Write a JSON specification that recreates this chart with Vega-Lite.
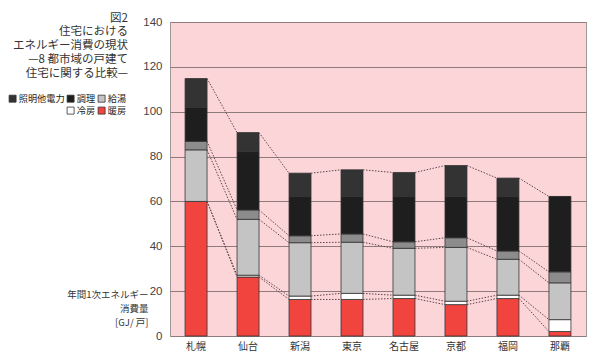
{
  "$schema": "https://vega.github.io/schema/vega-lite/v6.json",
  "width": 416,
  "height": 314,
  "autosize": {"type": "none"},
  "padding": {"left": 170, "top": 22, "right": 14, "bottom": 18},
  "background": "white",
  "config": {
    "font": "Noto Sans CJK JP",
    "view": {"fill": "#fcd5d9", "stroke": "#a09898", "strokeWidth": 1},
    "legend": {"symbolOpacity": 1}
  },
  "title": {
    "text": ["図2", "住宅における", "エネルギー消費の現状", "—8 都市域の戸建て", "住宅に関する比較—"],
    "anchor": "start",
    "frame": "group",
    "align": "right",
    "baseline": "top",
    "offset": 0,
    "dx": -42,
    "dy": 63,
    "fontSize": 11.5,
    "fontWeight": "normal",
    "lineHeight": 13.75,
    "color": "#333333"
  },
  "datasets": {
    "seg": [
      {"city": "札幌", "ci": 0, "seg": "暖房", "k": 1, "v": 60.0},
      {"city": "札幌", "ci": 0, "seg": "冷房", "k": 2, "v": 0},
      {"city": "札幌", "ci": 0, "seg": "給湯", "k": 3, "v": 23.0},
      {"city": "札幌", "ci": 0, "seg": "その他", "k": 4, "v": 3.8},
      {"city": "札幌", "ci": 0, "seg": "調理", "k": 5, "v": 15.2},
      {"city": "札幌", "ci": 0, "seg": "照明他電力", "k": 6, "v": 12.8},
      {"city": "仙台", "ci": 1, "seg": "暖房", "k": 1, "v": 26.3},
      {"city": "仙台", "ci": 1, "seg": "冷房", "k": 2, "v": 0.8},
      {"city": "仙台", "ci": 1, "seg": "給湯", "k": 3, "v": 24.9},
      {"city": "仙台", "ci": 1, "seg": "その他", "k": 4, "v": 4.2},
      {"city": "仙台", "ci": 1, "seg": "調理", "k": 5, "v": 26.0},
      {"city": "仙台", "ci": 1, "seg": "照明他電力", "k": 6, "v": 8.5},
      {"city": "新潟", "ci": 2, "seg": "暖房", "k": 1, "v": 16.3},
      {"city": "新潟", "ci": 2, "seg": "冷房", "k": 2, "v": 1.5},
      {"city": "新潟", "ci": 2, "seg": "給湯", "k": 3, "v": 23.8},
      {"city": "新潟", "ci": 2, "seg": "その他", "k": 4, "v": 3.1},
      {"city": "新潟", "ci": 2, "seg": "調理", "k": 5, "v": 17.5},
      {"city": "新潟", "ci": 2, "seg": "照明他電力", "k": 6, "v": 10.4},
      {"city": "東京", "ci": 3, "seg": "暖房", "k": 1, "v": 16.3},
      {"city": "東京", "ci": 3, "seg": "冷房", "k": 2, "v": 2.7},
      {"city": "東京", "ci": 3, "seg": "給湯", "k": 3, "v": 22.8},
      {"city": "東京", "ci": 3, "seg": "その他", "k": 4, "v": 3.7},
      {"city": "東京", "ci": 3, "seg": "調理", "k": 5, "v": 16.7},
      {"city": "東京", "ci": 3, "seg": "照明他電力", "k": 6, "v": 11.9},
      {"city": "名古屋", "ci": 4, "seg": "暖房", "k": 1, "v": 16.7},
      {"city": "名古屋", "ci": 4, "seg": "冷房", "k": 2, "v": 1.5},
      {"city": "名古屋", "ci": 4, "seg": "給湯", "k": 3, "v": 20.9},
      {"city": "名古屋", "ci": 4, "seg": "その他", "k": 4, "v": 2.9},
      {"city": "名古屋", "ci": 4, "seg": "調理", "k": 5, "v": 20.2},
      {"city": "名古屋", "ci": 4, "seg": "照明他電力", "k": 6, "v": 10.7},
      {"city": "京都", "ci": 5, "seg": "暖房", "k": 1, "v": 14.0},
      {"city": "京都", "ci": 5, "seg": "冷房", "k": 2, "v": 1.5},
      {"city": "京都", "ci": 5, "seg": "給湯", "k": 3, "v": 24.0},
      {"city": "京都", "ci": 5, "seg": "その他", "k": 4, "v": 4.3},
      {"city": "京都", "ci": 5, "seg": "調理", "k": 5, "v": 18.4},
      {"city": "京都", "ci": 5, "seg": "照明他電力", "k": 6, "v": 13.8},
      {"city": "福岡", "ci": 6, "seg": "暖房", "k": 1, "v": 16.7},
      {"city": "福岡", "ci": 6, "seg": "冷房", "k": 2, "v": 1.5},
      {"city": "福岡", "ci": 6, "seg": "給湯", "k": 3, "v": 16.0},
      {"city": "福岡", "ci": 6, "seg": "その他", "k": 4, "v": 3.7},
      {"city": "福岡", "ci": 6, "seg": "調理", "k": 5, "v": 24.3},
      {"city": "福岡", "ci": 6, "seg": "照明他電力", "k": 6, "v": 8.2},
      {"city": "那覇", "ci": 7, "seg": "暖房", "k": 1, "v": 2.0},
      {"city": "那覇", "ci": 7, "seg": "冷房", "k": 2, "v": 5.3},
      {"city": "那覇", "ci": 7, "seg": "給湯", "k": 3, "v": 16.4},
      {"city": "那覇", "ci": 7, "seg": "その他", "k": 4, "v": 4.9},
      {"city": "那覇", "ci": 7, "seg": "調理", "k": 5, "v": 33.6},
      {"city": "那覇", "ci": 7, "seg": "照明他電力", "k": 6, "v": 0}
    ]
  },
  "data": {"name": "seg"},
  "layer": [
    {
      "mark": {"type": "bar", "stroke": "#333333", "strokeWidth": 0.8},
      "encoding": {
        "x": {
          "field": "city", "type": "nominal",
          "scale": {"domain": ["札幌", "仙台", "新潟", "東京", "名古屋", "京都", "福岡", "那覇"], "paddingInner": 0.577, "paddingOuter": 0.29},
          "axis": {"title": null, "labelAngle": 0, "ticks": false, "domain": false, "labelPadding": 5, "labelFontSize": 10, "labelColor": "#333333"}
        },
        "y": {
          "field": "v", "type": "quantitative", "aggregate": "sum", "stack": "zero",
          "scale": {"domain": [0, 140], "nice": false},
          "axis": {
            "values": [0, 20, 40, 60, 80, 100, 120, 140],
            "grid": true, "gridColor": "#8f7b7b", "gridWidth": 1,
            "domain": false, "ticks": false, "labelPadding": 8,
            "labelFontSize": 11.5, "labelColor": "#444444", "labelFont": "Liberation Sans",
            "title": ["年間1次エネルギー", "消費量", "[GJ/ 戸]"],
            "titleAngle": 0, "titleAlign": "right", "titleBaseline": "top",
            "titleX": -22, "titleY": 267, "titleFontSize": 9.5, "titleFontWeight": "normal",
            "titleLineHeight": 14, "titleColor": "#333333"
          }
        },
        "color": {
          "field": "seg", "type": "nominal",
          "scale": {
            "domain": ["暖房", "冷房", "給湯", "その他", "調理", "照明他電力"],
            "range": ["#f2443f", "#ffffff", "#c4c4c4", "#8c8c8c", "#1e1e1e", "#333333"]
          },
          "legend": {
            "orient": "none", "legendX": -162, "legendY": 72,
            "direction": "horizontal",
            "title": null, "columns": 3,
            "values": ["照明他電力", "調理", "給湯", "その他", "冷房", "暖房"],
            "symbolType": "square", "symbolSize": 49,
            "symbolStrokeColor": "#333333", "symbolStrokeWidth": 0.8,
            "labelFontSize": 9.2, "labelOffset": 1.5, "labelColor": "#222222",
            "columnPadding": 0, "rowPadding": 1, "padding": 0,
            "labelExpr": "datum.value === 'その他' ? '' : datum.label",
            "encode": {"symbols": {"update": {"opacity": {"signal": "datum.value === 'その他' ? 0 : 1"}}}}
          }
        },
        "order": {"field": "k", "type": "quantitative"}
      }
    },
    {
      "transform": [
        {"window": [{"op": "sum", "field": "v", "as": "cum"}], "groupby": ["city"], "sort": [{"field": "k"}], "frame": [null, 0]},
        {"filter": "datum.seg !== '調理'"},
        {"window": [{"op": "lead", "field": "city", "as": "next"}, {"op": "lead", "field": "cum", "as": "cumNext"}], "groupby": ["seg"], "sort": [{"field": "ci"}], "frame": [null, null]},
        {"filter": "datum.next != null"}
      ],
      "mark": {"type": "rule", "stroke": "#5a4848", "strokeWidth": 1, "strokeDash": [1.5, 1.5]},
      "encoding": {
        "x": {
          "field": "city", "type": "nominal", "bandPosition": 1,
          "scale": {"domain": ["札幌", "仙台", "新潟", "東京", "名古屋", "京都", "福岡", "那覇"], "paddingInner": 0.577, "paddingOuter": 0.29},
          "axis": {"title": null, "labelAngle": 0, "ticks": false, "domain": false, "labelPadding": 5, "labelFontSize": 10, "labelColor": "#333333"}
        },
        "x2": {"field": "next", "bandPosition": 0},
        "y": {
          "field": "cum", "type": "quantitative",
          "scale": {"domain": [0, 140], "nice": false}
        },
        "y2": {"field": "cumNext"}
      }
    }
  ]
}
